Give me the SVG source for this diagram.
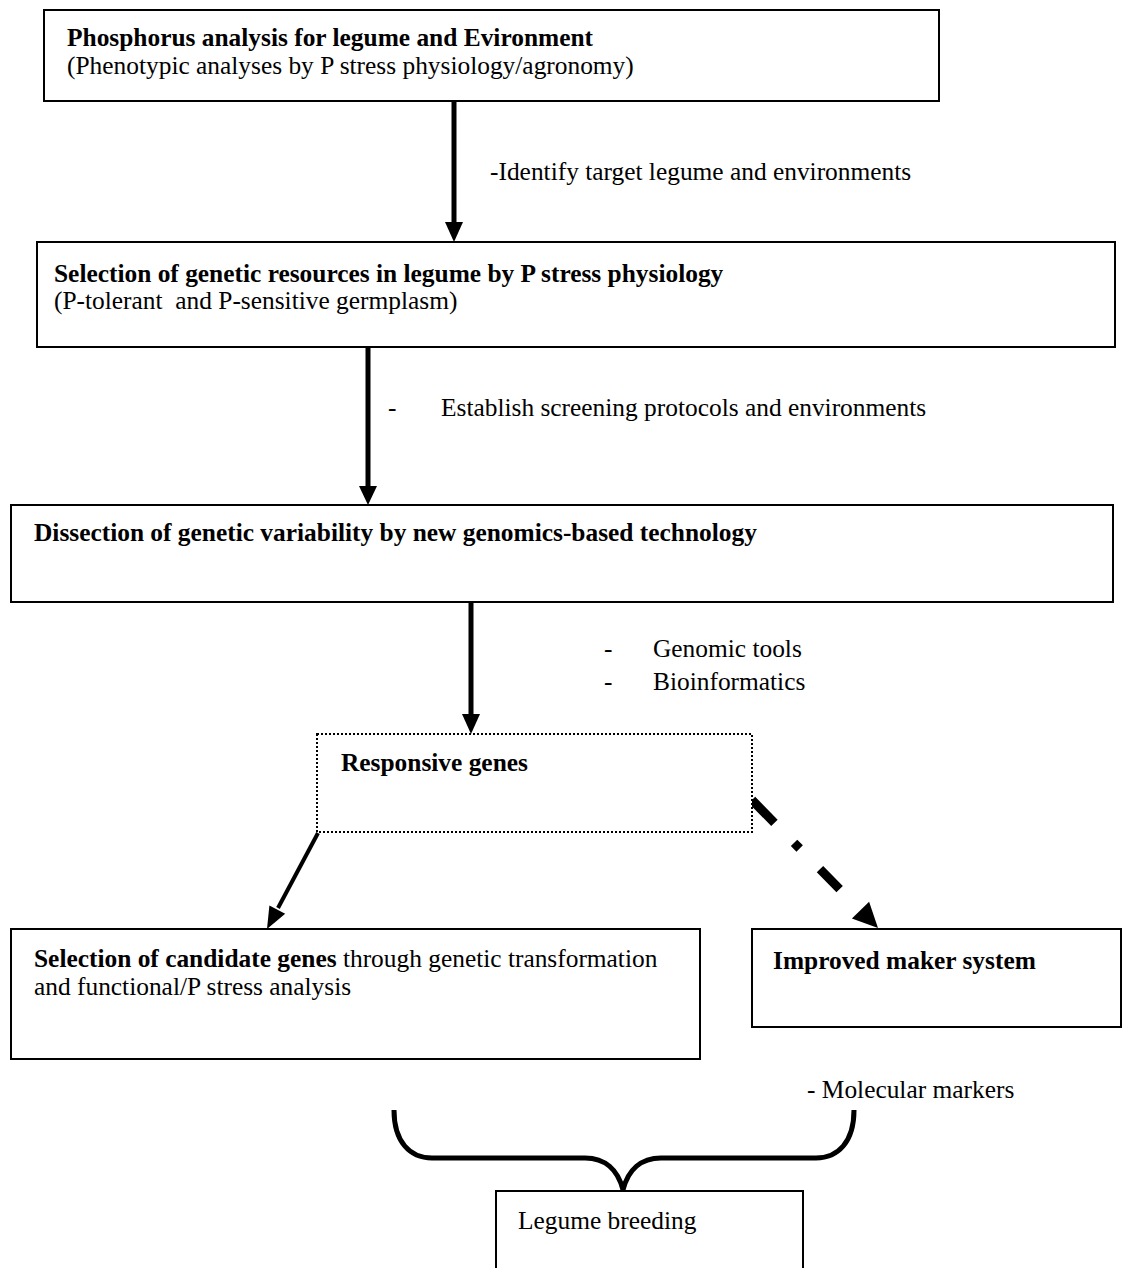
<svg xmlns="http://www.w3.org/2000/svg" width="1123" height="1268" viewBox="0 0 1123 1268">
<style>
.box{fill:#fff;stroke:#000;stroke-width:2}
.dot{fill:#fff;stroke:#000;stroke-width:2;stroke-dasharray:2 2}
text{font-family:"Liberation Serif","Times New Roman",serif;font-size:25.4px;fill:#000}
.b{font-weight:bold}
.conn{stroke:#000;fill:none}
.head{fill:#000;stroke:none}
</style>
<rect width="1123" height="1268" fill="#fff"/>
<g id="connectors">
  <line class="conn" x1="454" y1="101" x2="454" y2="224" stroke-width="5"/>
  <polygon class="head" points="445,222 463,222 454,242"/>
  <line class="conn" x1="368" y1="347" x2="368" y2="488" stroke-width="5"/>
  <polygon class="head" points="359,486 377,486 368,505"/>
  <line class="conn" x1="471" y1="602" x2="471" y2="716" stroke-width="5"/>
  <polygon class="head" points="462,714 480,714 471,734"/>
  <line class="conn" x1="318" y1="833" x2="278" y2="908" stroke-width="4"/>
  <polygon class="head" points="267,929 285.2,913.8 269.4,905.4"/>
  <line class="conn" x1="752" y1="800" x2="866" y2="916" stroke-width="9" stroke-dasharray="32 28 8 29 28 100"/>
  <polygon class="head" points="878,928 851.9,918.6 869.1,901.8"/>
  <path class="conn" stroke-width="5" d="M394,1110 C394,1142 410,1158 432,1158 L585,1158 C605,1158 618,1170 623,1190 C628,1170 641,1158 661,1158 L816,1158 C838,1158 854,1142 854,1110"/>
</g>
<g id="n1">
  <rect class="box" x="44" y="10" width="895" height="91"/>
  <text class="b" x="67" y="46">Phosphorus analysis for legume and Evironment</text>
  <text x="67" y="74">(Phenotypic analyses by P stress physiology/agronomy)</text>
</g>
<g id="l1"><text x="490" y="180">-Identify target legume and environments</text></g>
<g id="n2">
  <rect class="box" x="37" y="242" width="1078" height="105"/>
  <text class="b" x="54" y="282">Selection of genetic resources in legume by P stress physiology</text>
  <text x="54" y="309">(P-tolerant&#160; and P-sensitive germplasm)</text>
</g>
<g id="l2"><text x="388" y="416">-</text><text x="441" y="416">Establish screening protocols and environments</text></g>
<g id="n3">
  <rect class="box" x="11" y="505" width="1102" height="97"/>
  <text class="b" x="34" y="541">Dissection of genetic variability by new genomics-based technology</text>
</g>
<g id="l3">
  <text x="604" y="657">-</text><text x="653" y="657">Genomic tools</text>
  <text x="604" y="690">-</text><text x="653" y="690">Bioinformatics</text>
</g>
<g id="n4">
  <rect class="dot" x="317" y="734" width="435" height="98"/>
  <text class="b" x="341" y="771">Responsive genes</text>
</g>
<g id="n5">
  <rect class="box" x="11" y="929" width="689" height="130"/>
  <text x="34" y="967"><tspan class="b">Selection of candidate genes</tspan> through genetic transformation</text>
  <text x="34" y="995">and functional/P stress analysis</text>
</g>
<g id="n6">
  <rect class="box" x="752" y="929" width="369" height="98"/>
  <text class="b" x="773" y="969">Improved maker system</text>
</g>
<g id="l4"><text x="807" y="1098">- Molecular markers</text></g>
<g id="n7">
  <rect class="box" x="496" y="1191" width="307" height="90"/>
  <text x="518" y="1229">Legume breeding</text>
</g>
</svg>
